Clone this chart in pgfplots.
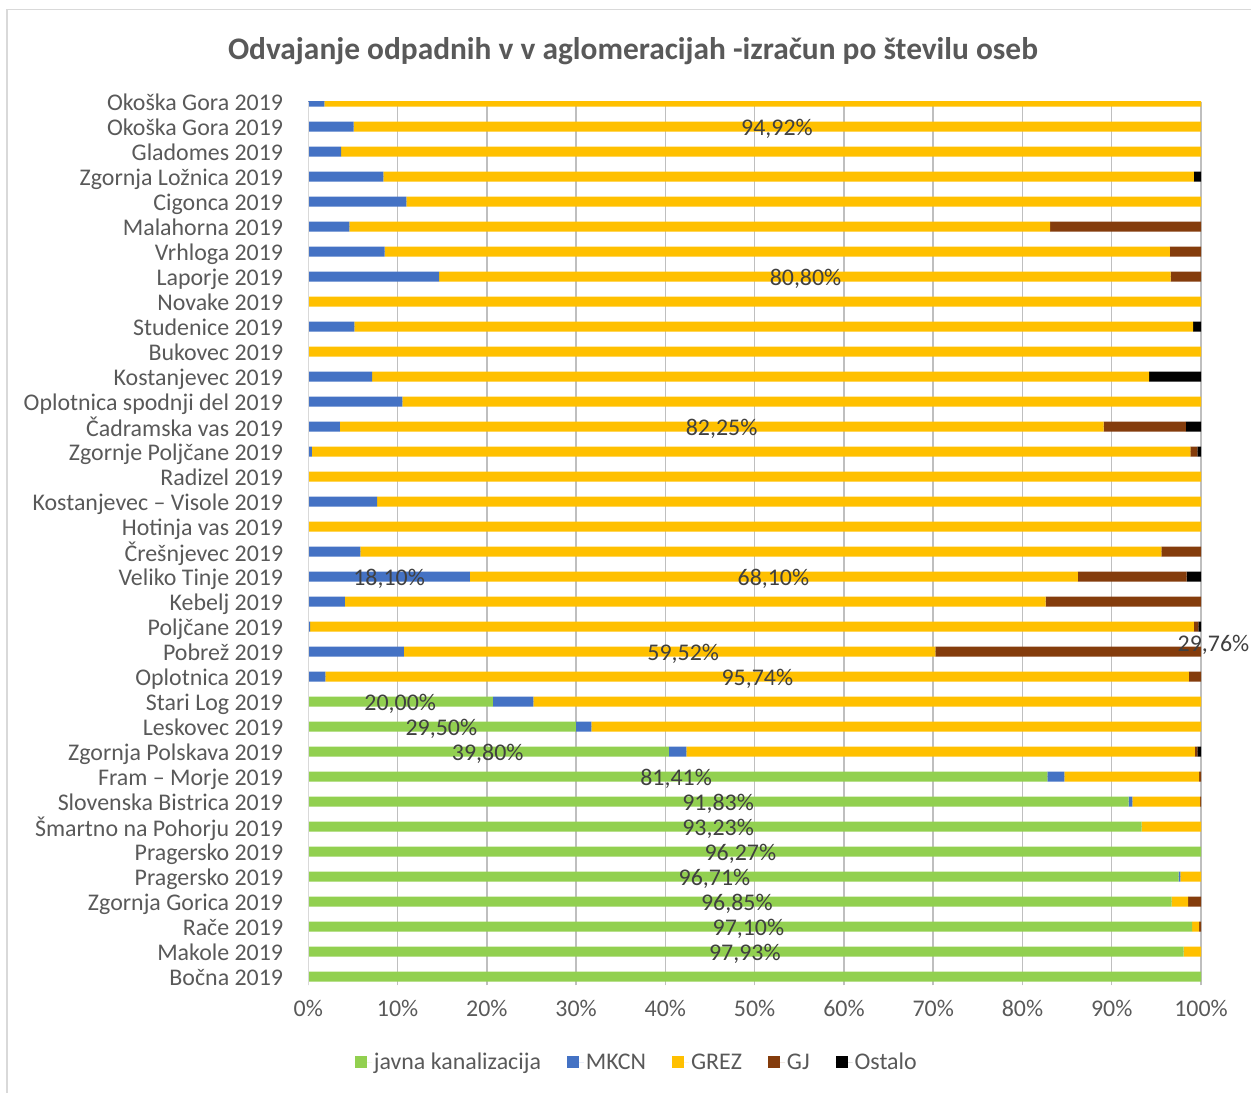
\documentclass[border=0pt]{standalone}
\usepackage{pgfplots}
\pgfplotsset{compat=1.18}
\usepackage{pgfplotstable}
\usepackage{fontspec}
\setmainfont{Carlito}
\definecolor{cgreen}{HTML}{92D050}
\definecolor{cblue}{HTML}{4472C4}
\definecolor{cyellow}{HTML}{FFC000}
\definecolor{cbrown}{HTML}{843C0C}
\definecolor{cblack}{HTML}{000000}
\definecolor{txt}{HTML}{595959}
\definecolor{lbl}{HTML}{404040}
\definecolor{grid}{HTML}{D9D9D9}
\pgfplotstableread{
y  green  blue   yellow  brown  black
35 0      1.8    98.2    0      0
34 0      5.08   94.92   0      0
33 0      3.67   96.33   0      0
32 0      8.4    90.8    0      0.8
31 0      11.0   89.0    0      0
30 0      4.6    78.5    16.9   0
29 0      8.56   87.94   3.5    0
28 0      14.65  81.95   3.4    0
27 0      0      100     0      0
26 0      5.16   93.97   0      0.87
25 0      0      100     0      0
24 0      7.14   87.06   0      5.8
23 0      10.54  89.46   0      0
22 0      3.55   85.55   9.2    1.7
21 0      0.4    98.4    0.8    0.4
20 0      0      100     0      0
19 0      7.7    92.3    0      0
18 0      0      100     0      0
17 0      5.83   89.73   4.44   0
16 0      18.1   68.1    12.2   1.6
15 0      4.1    78.5    17.4   0
14 0      0.2    99.0    0.5    0.3
13 0      10.72  59.52   29.76  0
12 0      1.9    96.75   1.35   0
11 20.67  4.55   74.78   0      0
10 29.97  1.73   68.3    0      0
9  40.4   1.95   56.95   0.3    0.4
8  82.8   1.9    15.1    0.2    0
7  91.9   0.4    7.6     0.1    0
6  93.35  0      6.65    0      0
5  100    0      0       0      0
4  97.5   0.2    2.3     0      0
3  96.7   0      1.85    1.45   0
2  99.0   0      0.8     0.2    0
1  98.05  0      1.95    0      0
0  100    0      0       0      0
}\datatable
\begin{document}
\begin{tikzpicture}
\useasboundingbox (0,0) rectangle (1251bp,1093bp);
\draw[grid, line width=1.2bp] (7bp,0) -- (7bp,1083.5bp) -- (1251bp,1083.5bp);
\node[font=\bfseries\fontsize{31.5}{36}\selectfont, text=txt] at (633bp,1042bp) {Odvajanje odpadnih v v aglomeracijah -izračun po številu oseb};
\begin{axis}[
  at={(308.3bp,107.6bp)}, anchor=south west,
  scale only axis, width=892.7bp, height=883.7bp,
  xbar stacked, bar width=0.4,
  xmin=0, xmax=100, ymin=-0.35, ymax=35,
  clip=true,
  axis line style={draw=none},
  xtick={0,10,...,100},
  xticklabels={0\%,10\%,20\%,30\%,40\%,50\%,60\%,70\%,80\%,90\%,100\%},
  ytick={0,...,35},
  yticklabels={Bočna 2019,Makole 2019,Rače 2019,Zgornja Gorica 2019,Pragersko 2019,Pragersko 2019,Šmartno na Pohorju 2019,Slovenska Bistrica 2019,Fram – Morje 2019,Zgornja Polskava 2019,Leskovec 2019,Stari Log 2019,Oplotnica 2019,Pobrež 2019,Poljčane 2019,Kebelj 2019,Veliko Tinje 2019,Črešnjevec 2019,Hotinja vas 2019,Kostanjevec – Visole 2019,Radizel 2019,Zgornje Poljčane 2019,Čadramska vas 2019,Oplotnica spodnji del 2019,Kostanjevec 2019,Bukovec 2019,Studenice 2019,Novake 2019,Laporje 2019,Vrhloga 2019,Malahorna 2019,Cigonca 2019,Zgornja Ložnica 2019,Gladomes 2019,Okoška Gora 2019,Okoška Gora 2019},
  typeset ticklabels with strut,
  major tick length=0,
  xmajorgrids, major grid style={grid, line width=1.5bp},
  ticklabel style={font=\fontsize{24}{26}\selectfont, text=txt},
  yticklabel style={inner sep=0pt, xshift=-25bp, yshift=-3.5bp},
  xticklabel style={inner sep=0pt, yshift=-13bp},
  legend columns=5,
  legend style={at={(0.368,-0.0867)}, anchor=center, draw=none, fill=none,
    font=\fontsize{24}{26}\selectfont, text=txt,
    /tikz/every odd column/.append style={column sep=0bp},
    /tikz/every even column/.append style={column sep=24bp}},
  legend image code/.code={\fill[#1] (0bp,-6bp) rectangle (12bp,6bp); \path (0bp,0bp) -- (17bp,0bp);},
  every axis plot/.append style={draw=none},
]
\addplot[fill=cgreen] table[x=green,y=y]{\datatable};
\addplot[fill=cblue] table[x=blue,y=y]{\datatable};
\addplot[fill=cyellow] table[x=yellow,y=y]{\datatable};
\addplot[fill=cbrown] table[x=brown,y=y]{\datatable};
\addplot[fill=cblack] table[x=black,y=y]{\datatable};
\legend{javna kanalizacija,MKCN,GREZ,GJ,Ostalo}
\end{axis}
\begin{axis}[
  at={(308.3bp,107.6bp)}, anchor=south west,
  scale only axis, width=892.7bp, height=883.7bp,
  xmin=0, xmax=100, ymin=-0.35, ymax=35,
  clip=false, axis line style={draw=none}, ticks=none,
]
\draw[grid, line width=1.5bp] (axis cs:0,-0.35) -- (axis cs:0,35);
\path[font=\fontsize{24}{26}\selectfont, text=lbl, yshift=-2bp]
  (axis cs:52.5,34) node {94,92\%}
  (axis cs:55.7,28) node {80,80\%}
  (axis cs:46.3,22) node {82,25\%}
  (axis cs:9.05,16) node {18,10\%}
  (axis cs:52.1,16) node {68,10\%}
  (axis cs:42.0,13) node {59,52\%}
  (axis cs:101.4,13.36) node {29,76\%}
  (axis cs:50.3,12) node {95,74\%}
  (axis cs:10.3,11) node {20,00\%}
  (axis cs:14.9,10) node {29,50\%}
  (axis cs:20.1,9) node {39,80\%}
  (axis cs:41.2,8) node {81,41\%}
  (axis cs:45.9,7) node {91,83\%}
  (axis cs:45.9,6) node {93,23\%}
  (axis cs:48.4,5) node {96,27\%}
  (axis cs:45.5,4) node {96,71\%}
  (axis cs:48.0,3) node {96,85\%}
  (axis cs:49.3,2) node {97,10\%}
  (axis cs:48.9,1) node {97,93\%};
\end{axis}
\end{tikzpicture}
\end{document}
